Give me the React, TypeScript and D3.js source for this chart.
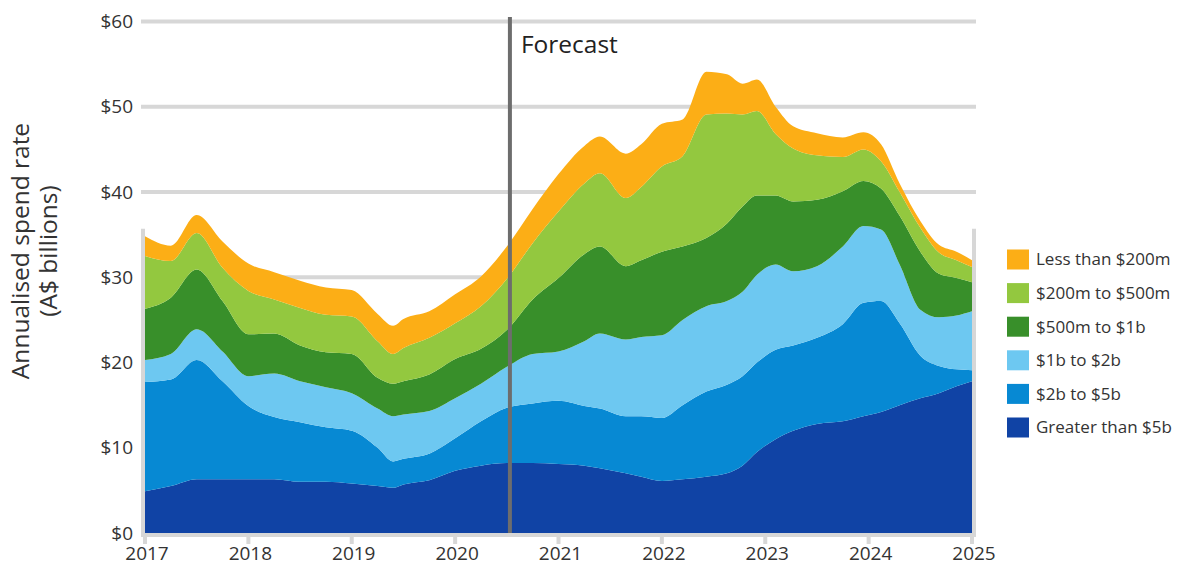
import React from 'react';
import * as d3 from 'd3';

const WIDTH = 1190;
const HEIGHT = 578;

// Time points (decimal years)
const periods = [
  2017.0, 2017.25, 2017.5, 2017.75, 2018.0, 2018.25, 2018.5, 2018.75,
  2019.0, 2019.25, 2019.4, 2019.5, 2019.75, 2020.0, 2020.25, 2020.5,
  2020.75, 2021.0, 2021.25, 2021.4, 2021.65, 2021.8, 2022.0, 2022.2,
  2022.43, 2022.63, 2022.78, 2022.92, 2023.1, 2023.27, 2023.5, 2023.75,
  2023.95, 2024.12, 2024.3, 2024.5, 2024.68, 2024.85, 2025.0,
];

// Annualised spend rate by project size band (A$ billions)
const greaterThan5b = [
  4.9, 5.5, 6.3, 6.3, 6.3, 6.3, 6.0, 6.0,
  5.8, 5.5, 5.3, 5.7, 6.2, 7.3, 7.9, 8.2,
  8.2, 8.1, 7.9, 7.6, 7.0, 6.6, 6.1, 6.3,
  6.6, 7.0, 7.9, 9.5, 11.0, 12.0, 12.8, 13.1,
  13.7, 14.2, 15.0, 15.8, 16.4, 17.2, 17.8,
];
const from2bTo5b = [
  12.8, 12.5, 14.0, 11.5, 8.6, 7.3, 7.0, 6.4,
  6.2, 4.5, 3.1, 3.0, 3.1, 3.8, 5.2, 6.5,
  7.0, 7.4, 7.0, 7.0, 6.7, 7.1, 7.4, 8.7,
  10.0, 10.4, 10.5, 10.5, 10.5, 10.0, 10.1, 11.4,
  13.3, 13.0, 9.6, 5.0, 3.2, 2.0, 1.3,
];
const from1bTo2b = [
  2.6, 3.0, 3.6, 3.5, 3.5, 5.1, 4.8, 4.7,
  4.4, 4.6, 5.3, 5.2, 5.0, 4.7, 4.4, 4.8,
  5.8, 5.8, 7.6, 8.8, 9.0, 9.3, 9.7, 10.0,
  10.0, 9.8, 9.9, 10.3, 10.0, 8.7, 8.4, 9.1,
  9.0, 8.4, 6.9, 5.4, 5.7, 6.3, 6.9,
];
const from500mTo1b = [
  6.0, 6.6, 7.0, 5.9, 4.9, 4.7, 4.2, 4.1,
  4.6, 3.6, 3.8, 3.9, 4.3, 4.6, 4.1, 4.3,
  6.4, 8.6, 10.2, 10.2, 8.6, 9.0, 9.8, 8.6,
  8.0, 9.1, 10.0, 9.3, 8.1, 8.2, 7.8, 6.5,
  5.3, 4.8, 5.7, 6.8, 5.1, 4.4, 3.4,
];
const from200mTo500m = [
  6.2, 4.3, 4.3, 3.9, 5.1, 4.0, 4.4, 4.4,
  4.4, 4.3, 3.5, 3.9, 4.3, 4.2, 5.0, 6.0,
  6.6, 7.8, 8.3, 8.6, 8.0, 8.6, 10.0, 10.6,
  14.5, 12.9, 10.8, 9.9, 7.2, 6.2, 5.2, 4.0,
  3.7, 3.2, 2.8, 2.8, 2.5, 2.1, 1.8,
];
const lessThan200m = [
  2.3, 1.8, 2.1, 3.1, 3.2, 3.2, 3.2, 3.2,
  3.1, 3.2, 3.3, 3.4, 3.1, 3.4, 3.5, 3.8,
  4.0, 4.4, 4.4, 4.3, 5.2, 5.0, 5.0, 4.3,
  5.0, 4.6, 3.6, 3.7, 3.2, 2.6, 2.6, 2.3,
  2.0, 2.0, 1.0, 0.8, 0.9, 1.0, 0.8,
];

const seriesNames = [
  'Greater than $5b',
  '$2b to $5b',
  '$1b to $2b',
  '$500m to $1b',
  '$200m to $500m',
  'Less than $200m',
];
const seriesValues = [
  greaterThan5b,
  from2bTo5b,
  from1bTo2b,
  from500mTo1b,
  from200mTo500m,
  lessThan200m,
];
const seriesColors = ['#1043a5', '#0789d3', '#6dc8f1', '#388f2a', '#93c83f', '#fcae16'];

const yTicks = [0, 10, 20, 30, 40, 50, 60];
const xTicks = [2017, 2018, 2019, 2020, 2021, 2022, 2023, 2024, 2025];
const forecastStart = 2020.53;
const frameTop = 35.7;

const FONT = "'Open Sans', 'DejaVu Sans', sans-serif";
const GRID = '#d7d7d7';

export default function App() {
  const x = d3.scaleLinear().domain([2017, 2025]).range([145, 972]);
  const y = d3.scaleLinear().domain([0, 60]).range([533, 21.5]);

  const rows = periods.map((p, i) => {
    const row: Record<string, number> = { period: p };
    seriesNames.forEach((name, k) => {
      row[name] = seriesValues[k][i];
    });
    return row;
  });

  const stacked = d3.stack<Record<string, number>>().keys(seriesNames)(rows);

  const area = d3
    .area<d3.SeriesPoint<Record<string, number>>>()
    .x((d) => x(d.data.period))
    .y0((d) => y(d[0]))
    .y1((d) => y(d[1]))
    .curve(d3.curveMonotoneX);

  const legendOrder = [...seriesNames.keys()].reverse();

  return (
    <svg
      width={WIDTH}
      height={HEIGHT}
      style={{ position: 'absolute', left: 0, top: 0, display: 'block', background: '#fff' }}
    >
      {/* horizontal gridlines */}
      {yTicks.slice(1).map((t) => (
        <line key={`g${t}`} x1={141} x2={976} y1={y(t)} y2={y(t)} stroke={GRID} strokeWidth={4} />
      ))}

      {/* stacked areas */}
      {stacked.map((s, i) => (
        <path key={s.key} d={area(s) ?? ''} fill={seriesColors[i]} />
      ))}

      {/* plot frame: side rules and baseline */}
      <line x1={143} x2={143} y1={y(frameTop)} y2={y(0) + 2} stroke={GRID} strokeWidth={4} />
      <line x1={974} x2={974} y1={y(frameTop)} y2={y(0) + 2} stroke={GRID} strokeWidth={4} />
      <line x1={141} x2={976} y1={y(0) + 2} y2={y(0) + 2} stroke={GRID} strokeWidth={4} />

      {/* x ticks and labels */}
      {xTicks.map((t) => (
        <g key={`x${t}`}>
          <line x1={x(t)} x2={x(t)} y1={y(0) + 4} y2={y(0) + 11} stroke={GRID} strokeWidth={4} />
          <text
            x={x(t) + 2}
            y={560}
            textAnchor="middle"
            fontFamily={FONT}
            fontSize={19}
            fill="#333"
          >
            {t}
          </text>
        </g>
      ))}

      {/* y tick labels */}
      {yTicks.map((t) => (
        <text
          key={`y${t}`}
          x={133}
          y={y(t)}
          dy="0.35em"
          textAnchor="end"
          fontFamily={FONT}
          fontSize={19}
          fill="#333"
        >
          {`$${t}`}
        </text>
      ))}

      {/* y axis title */}
      <g transform="translate(0,251) rotate(-90)" fontFamily={FONT} fontSize={24.5} fill="#333">
        <text x={0} y={29} textAnchor="middle">Annualised spend rate</text>
        <text x={0} y={57} textAnchor="middle">(A$ billions)</text>
      </g>

      {/* forecast divider */}
      <line
        x1={x(forecastStart)}
        x2={x(forecastStart)}
        y1={17}
        y2={y(0)}
        stroke="#6d6d6d"
        strokeWidth={4}
      />
      <text x={x(forecastStart) + 11} y={53} fontFamily={FONT} fontSize={24.5} fill="#222">
        Forecast
      </text>

      {/* legend */}
      {legendOrder.map((k, row) => {
        const cy = 259.5 + row * 33.6;
        return (
          <g key={`l${k}`}>
            <rect x={1007} y={cy - 10} width={22} height={20} fill={seriesColors[k]} />
            <text x={1036} y={cy} dy="0.35em" fontFamily={FONT} fontSize={17} fill="#333">
              {seriesNames[k]}
            </text>
          </g>
        );
      })}
    </svg>
  );
}
